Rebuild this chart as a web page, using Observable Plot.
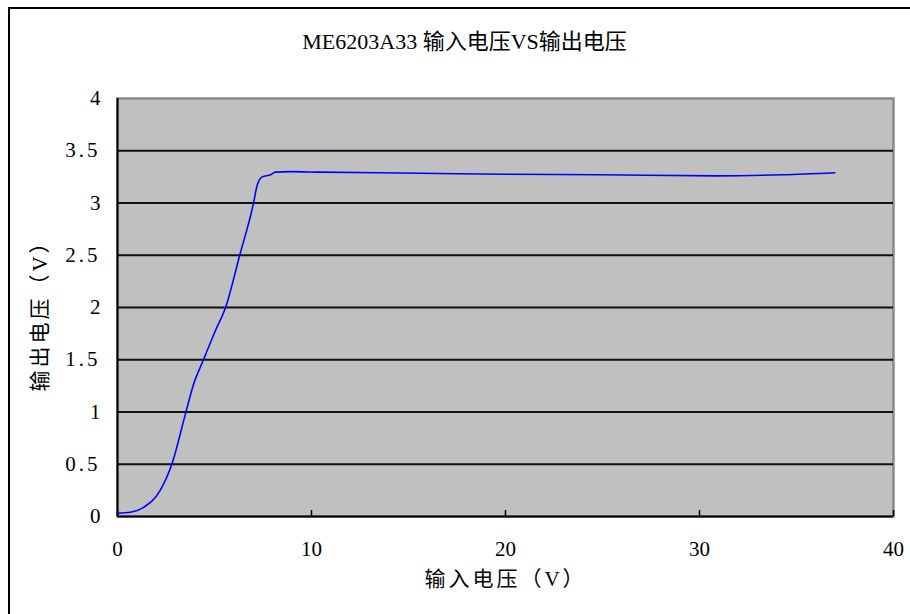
<!DOCTYPE html>
<html>
<head>
<meta charset="utf-8">
<script src="https://cdn.jsdelivr.net/npm/d3@7"></script>
<script src="https://cdn.jsdelivr.net/npm/@observablehq/plot@0.6"></script>
<style>
  html, body { margin: 0; padding: 0; background: #fff; }
  #wrap { position: relative; width: 910px; height: 614px; overflow: hidden; }
  #border { position: absolute; left: 8px; top: 7px; width: 1000px; height: 1000px;
            border-left: 2px solid #000; border-top: 2px solid #000; pointer-events: none; }
</style>
</head>
<body>
<div id="wrap"><div id="chart"></div><div id="border"></div></div>
<script>
const title = "ME6203A33 输入电压VS输出电压";
const xLabel = "输入电压（V）";
const yLabel = "输出电压（V）";
const xTicks = [0, 10, 20, 30, 40];
const yTicks = [0, 0.5, 1, 1.5, 2, 2.5, 3, 3.5, 4];
const vin  = [0, 0.67, 1.36, 2.2, 2.8, 3.5, 3.93, 4.41, 5.05, 5.57, 6.3, 7.0, 7.2, 7.46, 7.89, 8.14, 8.9, 10.46, 15.6, 20, 24.9, 30.9, 34.3, 36.98];
const vout = [0.03, 0.04, 0.09, 0.25, 0.5, 0.98, 1.27, 1.49, 1.78, 2.0, 2.5, 2.99, 3.17, 3.25, 3.27, 3.295, 3.30, 3.295, 3.285, 3.275, 3.27, 3.26, 3.27, 3.29];

const data = vin.map((v, i) => ({vin: v, vout: vout[i]}));
const font = "'Liberation Serif', 'Noto Sans CJK SC', serif";

const chart = Plot.plot({
  width: 910,
  height: 614,
  marginLeft: 117,
  marginRight: 17,
  marginTop: 98,
  marginBottom: 98,
  style: {fontFamily: font, fontSize: "20px", color: "#000", background: "transparent"},
  x: {domain: [0, 40], ticks: xTicks},
  y: {domain: [0, 4], ticks: yTicks},
  marks: [
    Plot.frame({fill: "#C0C0C0", stroke: "#8a8a8a", strokeWidth: 2.5}),
    Plot.ruleY(yTicks.filter(d => d > 0 && d < 4), {stroke: "#111", strokeWidth: 1.8}),
    Plot.ruleX([0], {stroke: "#000", strokeWidth: 2}),
    Plot.ruleY([0], {stroke: "#000", strokeWidth: 2}),
    Plot.axisX({ticks: xTicks, tickSize: 6, dy: -6, text: null, stroke: "#000", strokeWidth: 1.5, label: null}),
    Plot.axisX({ticks: xTicks, tickSize: 0, tickPadding: 25, fontSize: 21, tickFormat: d => String(d), label: null}),
    Plot.axisY({ticks: yTicks, tickSize: 0, tickPadding: 17, fontSize: 21, tickFormat: d => String(d), label: null}),
    Plot.line(data, {x: "vin", y: "vout", stroke: "#0000FF", strokeWidth: 1.6, curve: "monotone-x"}),
    Plot.text([title], {text: d => d, frameAnchor: "top", dx: -41, dy: -65, fontSize: 22}),
    Plot.text([xLabel], {text: d => d, frameAnchor: "bottom", dx: 0, dy: 69, fontSize: 21, textAnchor: "middle"}),
    Plot.text([yLabel], {text: d => d, frameAnchor: "left", dx: -77, dy: 3, rotate: -90, fontSize: 21, textAnchor: "middle"})
  ]
});
d3.select(chart).selectAll("text").filter(function() {
  const t = this.textContent; return t === xLabel || t === yLabel;
}).style("letter-spacing", "3px");
d3.select(chart).selectAll("text").filter(function() {
  return /^\d\.\d$/.test(this.textContent);
}).style("letter-spacing", "3px");
document.getElementById("chart").appendChild(chart);
</script>
</body>
</html>
